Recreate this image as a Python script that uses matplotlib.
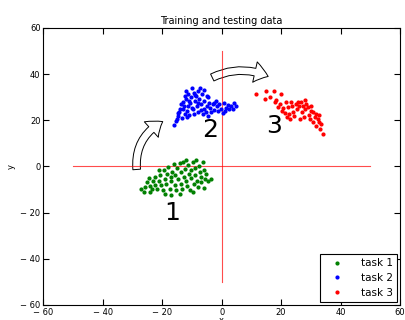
import matplotlib
matplotlib.use("Agg")
import matplotlib.pyplot as plt
from matplotlib.patches import FancyArrowPatch
from matplotlib.ticker import FuncFormatter, MultipleLocator

# ---- data ----
task1_x = [-27.0, -25.9, -25.0, -24.5, -24.2, -23.4, -23.1, -22.5, -22.3, -21.6,
           -21.2, -20.8, -20.3, -19.7, -19.4, -18.9, -18.6, -18.3, -18.0, -17.5,
           -17.1, -16.9, -16.7, -16.0, -15.8, -15.6, -15.2, -14.9, -14.7, -14.1,
           -13.8, -13.6, -13.3, -13.0, -12.7, -12.4, -11.9, -11.5, -11.3, -11.1,
           -10.8, -10.4, -10.2, -9.6, -9.3, -9.1, -8.9, -8.5, -8.2, -8.0,
           -7.7, -7.4, -7.1, -6.8, -6.3, -5.9, -5.7, -5.2, -4.6, -3.5,
           -24.0, -19.0, -14.0, -9.5, -6.0, -26.0, -21.0, -12.0, -17.0]
task1_y = [-9.7, -8.9, -6.8, -5.1, -8.5, -9.7, -6.5, -4.6, -7.9, -9.7,
           -6.1, -3.6, -8.2, -10.4, -1.7, -5.3, -7.5, -3.2, -0.3, -9.7,
           -4.6, -6.5, -2.2, 1.2, -8.2, -3.9, -10.4, -0.7, -5.6, 1.6,
           -2.5, -7.5, -9.7, 1.9, -4.6, -1.0, -6.1, -8.5, 0.7, -3.2,
           -10.4, -1.7, -5.1, 1.9, -7.5, -0.7, -3.6, 2.6, -6.1, -8.9,
           0.4, -2.5, -4.6, -6.8, 1.9, -1.7, -5.3, -3.2, -6.1, -5.3,
           -11.0, -12.0, -11.8, -11.0, -9.5, -11.2, -1.5, 2.8, -12.5]

task2_x = [-16.1, -15.0, -14.6, -14.2, -13.9, -13.7, -13.4, -13.1, -12.8, -12.5,
           -12.3, -12.0, -11.7, -11.4, -11.2, -10.9, -10.5, -10.3, -10.1, -9.7,
           -9.4, -9.2, -9.0, -8.6, -8.3, -8.1, -7.8, -7.5, -7.2, -6.9,
           -6.7, -6.4, -6.1, -5.8, -5.3, -4.9, -4.7, -4.1, -3.8, -3.6,
           -3.0, -2.5, -1.9, -1.6, -1.1, -0.8, -0.2, 0.3, 0.9, 1.5,
           2.0, 2.6, 3.1, 3.7, 4.3, 4.8,
           -15.5, -14.8, -13.0, -12.0, -11.0, -10.0, -9.0, -8.0, -6.0, -5.0,
           -7.0, -2.5, 1.0, -4.5, -11.5]
task2_y = [17.9, 20.5, 21.9, 23.4, 24.8, 27.0, 20.8, 28.0, 26.0, 22.6,
           30.6, 29.1, 24.1, 26.3, 31.3, 22.2, 27.7, 29.9, 33.8, 24.8,
           32.0, 22.6, 28.4, 30.6, 26.0, 32.8, 23.7, 29.1, 34.2, 27.0,
           31.3, 22.6, 25.1, 28.4, 23.4, 26.3, 29.9, 27.7, 25.5, 23.7,
           27.0, 24.5, 28.4, 26.0, 24.1, 27.0, 25.1, 23.1, 27.7, 25.5,
           26.6, 24.8, 26.3, 25.1, 27.3, 26.0,
           19.5, 23.0, 25.0, 32.5, 28.5, 25.5, 31.0, 27.5, 33.0, 30.5,
           24.5, 27.5, 24.0, 22.0, 21.5]

task3_x = [11.4, 14.5, 15.0, 16.1, 17.5, 17.8, 18.4, 18.9, 19.5, 20.1,
           20.4, 20.6, 21.2, 21.7, 22.0, 22.3, 22.6, 22.9, 23.4, 23.8,
           24.0, 24.5, 25.1, 25.3, 25.6, 26.0, 26.2, 26.8, 27.1, 27.3,
           27.6, 27.9, 28.5, 29.0, 29.3, 29.6, 30.1, 30.7, 30.9, 31.3,
           31.6, 31.8, 32.4, 32.7, 33.2, 33.5, 34.1, 32.9, 30.1, 28.2]
task3_y = [31.5, 29.3, 32.5, 30.0, 32.5, 27.8, 28.6, 25.7, 27.1, 31.5,
           24.2, 25.2, 23.2, 27.8, 21.3, 25.7, 22.8, 20.6, 27.8, 26.1,
           23.5, 21.8, 27.1, 25.0, 28.1, 26.1, 20.6, 27.8, 23.5, 26.4,
           21.3, 24.7, 27.1, 25.7, 22.1, 20.6, 24.2, 23.5, 19.2, 21.3,
           22.8, 17.7, 20.6, 19.2, 16.3, 18.5, 14.1, 22.1, 26.4, 28.6]

labels = ["task 1", "task 2", "task 3"]
colors = ["g", "b", "r"]
task_numbers = ["1", "2", "3"]
number_x = [-16.8, -4.0, 17.8]
number_y = [-23.4, 12.6, 14.7]

# arrows between tasks: (start, end, bend)
arrows = [((-28.5, -2.5), (-19, 20), -0.35), ((-4, 38), (16.5, 38.5), -0.25)]

fig = plt.figure(figsize=(4.06, 3.2), dpi=100)
ax = fig.add_axes([0.1067, 0.047, 0.8785, 0.8656])

# cross through the origin
ax.plot([-50, 50], [0, 0], color="r", lw=0.8, alpha=0.7)
ax.plot([0, 0], [-50, 50], color="r", lw=0.8, alpha=0.7)

for xs, ys, c, lab in zip([task1_x, task2_x, task3_x],
                          [task1_y, task2_y, task3_y], colors, labels):
    ax.plot(xs, ys, ".", color=c, markersize=4, label=lab)

for t, x, y in zip(task_numbers, number_x, number_y):
    ax.text(x, y, t, fontsize=18, ha="center", va="baseline")

for start, end, rad in arrows:
    arr = FancyArrowPatch(start, end, connectionstyle="arc3,rad=%g" % rad,
                          arrowstyle="simple,head_length=10,head_width=15,tail_width=5.5",
                          mutation_scale=1, facecolor="white", edgecolor="black",
                          lw=0.7)
    ax.add_patch(arr)

ax.set_xlim(-60, 60)
ax.set_ylim(-60, 60)
ax.xaxis.set_major_locator(MultipleLocator(20))
ax.yaxis.set_major_locator(MultipleLocator(20))
fmt = FuncFormatter(lambda v, p: "\u2212 %d" % -v if v < 0 else "%d" % v)
ax.xaxis.set_major_formatter(fmt)
ax.yaxis.set_major_formatter(fmt)
ax.tick_params(direction="in", top=True, right=True, length=4, width=0.8,
               labelsize=6, pad=2)

ax.set_title("Training and testing data", fontsize=7, pad=3)
ax.set_xlabel("x", fontsize=6)
ax.set_ylabel("y", fontsize=6)
ax.xaxis.set_label_coords(0.5, -0.04)
ax.yaxis.set_label_coords(-0.078, 0.5)

leg = ax.legend(loc="lower right", numpoints=1, fontsize=7.5, fancybox=False,
                framealpha=1, edgecolor="black", borderaxespad=0.3,
                handlelength=2.4, handletextpad=1.1, labelspacing=0.45)
leg.get_frame().set_linewidth(0.8)

fig.savefig("out.png", dpi=100)
